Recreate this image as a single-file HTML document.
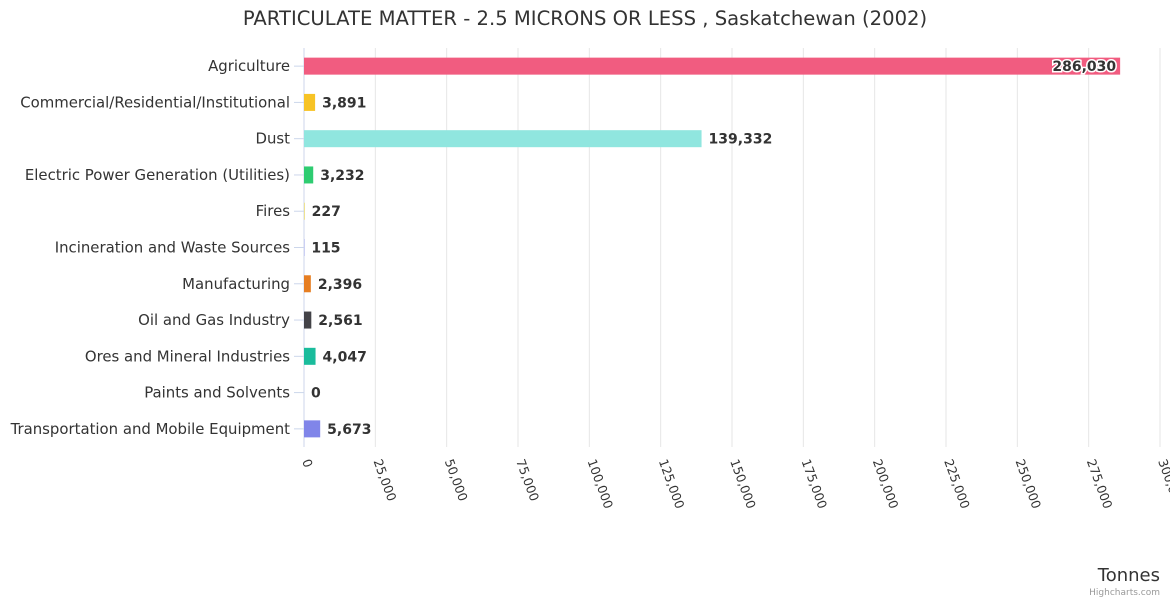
<!DOCTYPE html>
<html><head><meta charset="utf-8"><style>
body{margin:0;background:#fff;font-family:"Liberation Sans","DejaVu Sans",sans-serif}
</style></head><body>
<svg width="1170" height="600" id="chart" font-family="DejaVu Sans, Liberation Sans, sans-serif">
<text x="585" y="25" text-anchor="middle" font-size="19.6" fill="#333">PARTICULATE MATTER - 2.5 MICRONS OR LESS , Saskatchewan (2002)</text>
<g id="grid"></g><g id="bars"></g><g id="labels"></g>
<text x="1160" y="581" text-anchor="end" font-size="18" fill="#333">Tonnes</text>
<text x="1160" y="595" text-anchor="end" font-size="9" fill="#999">Highcharts.com</text>
</svg>
<script>
const categories=["Agriculture","Commercial/Residential/Institutional","Dust","Electric Power Generation (Utilities)","Fires","Incineration and Waste Sources","Manufacturing","Oil and Gas Industry","Ores and Mineral Industries","Paints and Solvents","Transportation and Mobile Equipment"];
const values=[286030,3891,139332,3232,227,115,2396,2561,4047,0,5673];
const colors=["#f15c80","#f7c325","#90e6df","#2ecc71","#e4d354","#8085e9","#e67e22","#434348","#1abc9c","#f45b5b","#8085e9"];
const ticks=[0,25000,50000,75000,100000,125000,150000,175000,200000,225000,250000,275000,300000];
const NS="http://www.w3.org/2000/svg";
const x0=304,x1=1160,plotTop=48,plotBot=447,maxV=300000;
const xs=v=>x0+v/maxV*(x1-x0);
const rowH=(plotBot-plotTop)/categories.length;
const ys=i=>plotTop+rowH*(i+0.5);
function mk(t,a,p){const e=document.createElementNS(NS,t);for(const k in a)e.setAttribute(k,a[k]);p.appendChild(e);return e;}
const g=document.getElementById('grid'),b=document.getElementById('bars'),l=document.getElementById('labels');
ticks.forEach(t=>{
 const x=xs(t);
 const ln=mk('line',{x1:x,x2:x,y1:plotTop,y2:plotBot,stroke:t===0?'#ccd6eb':'#e6e6e6','stroke-width':1},g);
 
 
 const tx=mk('text',{x:x-2,y:461,'font-size':12.5,fill:'#333',transform:`rotate(70 ${x-2} 461)`},g);
 tx.textContent=t.toLocaleString('en-US');
 
 
});
categories.forEach((c,i)=>{
 const y=ys(i);
 const tk=mk('line',{x1:x0-10,x2:x0,y1:y,y2:y,stroke:'#ccd6eb'},g);
 
 
 const cl=mk('text',{x:290,y:y+5,'text-anchor':'end','font-size':14.9,fill:'#333'},l);
 cl.textContent=c;
 
 
 const w=xs(values[i])-x0;
 const r=mk('rect',{x:x0,y:y-8.5,width:w,height:17,fill:colors[i]},b);
 
 
 const inside=w>700;
 const vl=mk('text',{x:inside?x0+w-4:x0+w+7,y:y+5,'text-anchor':inside?'end':'start','font-size':14,'font-weight':'bold',fill:'#333',stroke:inside?'#fff':'none','stroke-width':inside?3:0,'paint-order':'stroke'},l);
 vl.textContent=values[i].toLocaleString('en-US');
 
 
});
</script>
</body></html>
